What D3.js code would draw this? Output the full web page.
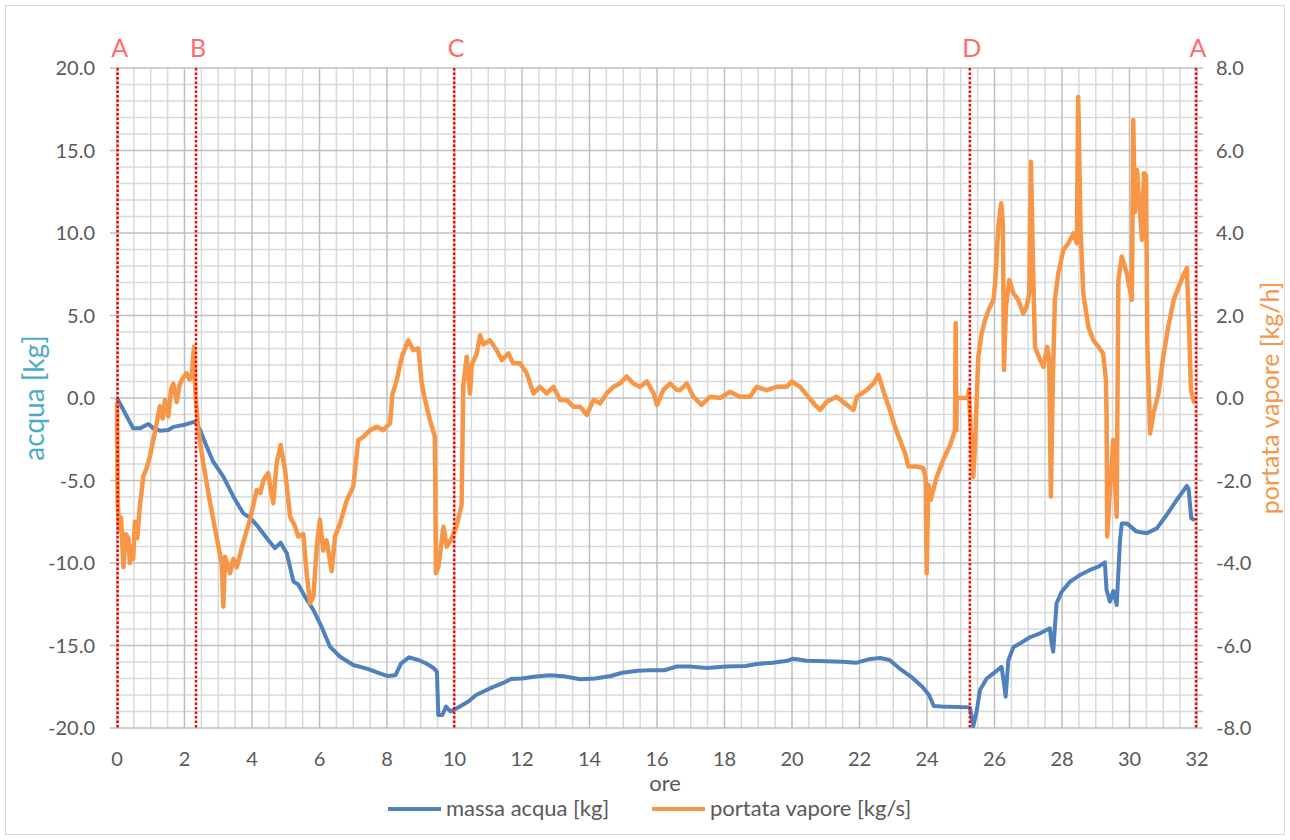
<!DOCTYPE html>
<html>
<head>
<meta charset="utf-8">
<script src="https://cdn.jsdelivr.net/npm/d3@7"></script>
<style>
body { margin: 0; background: #fff; }
svg text { font-family: Lato, "Open Sans", sans-serif; }
</style>
</head>
<body>
<svg id="chart" width="1290" height="840"></svg>
<script>
// massa acqua [kg] (asse sinistro)
const massaOre = [0,0.48,0.68,0.93,1.08,1.27,1.52,1.67,1.97,2.31,2.46,2.66,2.85,3.15,3.45,3.74,3.94,4.14,4.44,4.68,4.85,5.03,5.23,5.37,5.57,5.82,6.06,6.31,6.61,7.0,7.4,7.79,8.02,8.25,8.42,8.65,8.93,9.16,9.39,9.48,9.52,9.64,9.75,9.88,10.07,10.41,10.64,11.1,11.44,11.67,12.01,12.35,12.81,13.26,13.72,14.17,14.63,14.97,15.43,15.77,16.22,16.57,17.02,17.48,18.05,18.62,18.96,19.42,19.87,20.04,20.44,21.01,21.47,21.92,22.27,22.61,22.89,23.18,23.52,23.86,24.06,24.2,24.43,25.27,25.37,25.47,25.57,25.77,25.96,26.21,26.28,26.33,26.41,26.56,26.76,27.05,27.35,27.64,27.69,27.74,27.79,27.84,27.99,28.24,28.53,28.83,29.08,29.27,29.32,29.42,29.52,29.62,29.72,29.77,29.92,30.21,30.51,30.81,31.1,31.4,31.7,31.75,31.83,31.94];
const massaVal = [0,-1.84,-1.84,-1.58,-1.84,-1.98,-1.94,-1.75,-1.64,-1.43,-1.94,-2.95,-3.86,-4.77,-5.98,-6.99,-7.25,-7.7,-8.5,-9.1,-8.77,-9.41,-11.13,-11.3,-12.04,-12.85,-13.86,-15.07,-15.68,-16.18,-16.4,-16.69,-16.85,-16.8,-16.08,-15.72,-15.88,-16.08,-16.38,-16.6,-19.21,-19.21,-18.7,-19.0,-18.8,-18.4,-18.0,-17.55,-17.27,-17.03,-17.0,-16.9,-16.81,-16.87,-17.05,-17.0,-16.85,-16.65,-16.53,-16.5,-16.5,-16.28,-16.28,-16.36,-16.28,-16.24,-16.12,-16.04,-15.92,-15.8,-15.92,-15.96,-15.98,-16.04,-15.84,-15.76,-15.88,-16.38,-16.88,-17.5,-18.0,-18.67,-18.7,-18.75,-19.9,-19.0,-17.7,-17.0,-16.7,-16.3,-17.3,-18.1,-15.9,-15.1,-14.87,-14.5,-14.26,-13.96,-14.87,-15.37,-13.86,-12.44,-11.74,-11.13,-10.73,-10.42,-10.22,-9.96,-11.64,-12.34,-11.7,-12.55,-8.6,-7.6,-7.6,-8.1,-8.2,-7.9,-7.09,-6.18,-5.33,-5.5,-7.29,-7.4];

// portata vapore (asse destro)
const vaporeOre = [0.0,0.02,0.08,0.12,0.19,0.26,0.34,0.38,0.43,0.48,0.53,0.6,0.68,0.78,0.88,0.98,1.13,1.27,1.35,1.42,1.52,1.6,1.67,1.77,1.85,1.92,2.06,2.15,2.21,2.28,2.33,2.41,2.56,2.76,2.95,3.1,3.15,3.2,3.35,3.45,3.55,3.74,3.94,4.14,4.25,4.34,4.48,4.55,4.63,4.73,4.85,4.98,5.13,5.27,5.37,5.52,5.62,5.72,5.82,5.92,6.01,6.11,6.21,6.36,6.46,6.61,6.81,7.0,7.15,7.3,7.5,7.7,7.89,8.09,8.16,8.29,8.44,8.63,8.78,8.93,9.03,9.13,9.27,9.42,9.45,9.52,9.6,9.67,9.77,9.92,10.06,10.21,10.26,10.36,10.46,10.51,10.66,10.76,10.86,11.05,11.25,11.4,11.6,11.74,11.94,12.14,12.34,12.53,12.73,12.93,13.13,13.33,13.52,13.72,13.92,14.12,14.31,14.51,14.71,14.9,15.1,15.3,15.5,15.7,15.9,16.0,16.19,16.39,16.58,16.68,16.88,17.08,17.32,17.57,17.87,18.16,18.46,18.76,18.95,19.25,19.55,19.84,19.99,20.24,20.44,20.68,20.83,21.03,21.32,21.57,21.82,21.92,22.21,22.41,22.56,22.7,22.9,23.05,23.2,23.35,23.45,23.69,23.89,23.96,23.99,24.04,24.11,24.29,24.48,24.68,24.83,24.85,24.87,24.88,25.21,25.24,25.32,25.37,25.42,25.52,25.62,25.72,25.82,25.97,26.02,26.12,26.2,26.25,26.28,26.34,26.44,26.56,26.7,26.85,26.95,27.03,27.08,27.13,27.2,27.35,27.45,27.56,27.62,27.67,27.73,27.79,27.89,28.04,28.19,28.34,28.44,28.48,28.55,28.63,28.78,28.93,29.08,29.22,29.3,29.32,29.34,29.42,29.52,29.62,29.67,29.77,29.92,30.07,30.11,30.16,30.22,30.3,30.37,30.43,30.49,30.53,30.61,30.71,30.86,31.0,31.15,31.31,31.46,31.62,31.7,31.77,31.82,31.92];
const vaporeVal = [-0.1,-2.6,-3.2,-2.9,-4.1,-3.3,-3.4,-4.0,-3.6,-3.9,-3.0,-3.4,-2.6,-1.9,-1.7,-1.4,-0.8,-0.2,-0.5,-0.05,-0.45,0.2,0.35,-0.1,0.3,0.44,0.6,0.45,0.5,1.24,0.03,-0.78,-1.6,-2.55,-3.36,-4.0,-5.06,-3.85,-4.25,-3.9,-4.1,-3.5,-2.95,-2.23,-2.3,-1.99,-1.82,-2.2,-2.55,-1.58,-1.14,-1.75,-2.88,-3.1,-3.36,-3.3,-4.25,-4.98,-4.8,-3.6,-2.95,-3.7,-3.45,-4.2,-3.36,-3.04,-2.47,-2.15,-1.02,-0.94,-0.78,-0.7,-0.78,-0.61,0.08,0.44,1.0,1.4,1.16,1.2,0.35,-0.05,-0.53,-0.95,-4.25,-4.1,-3.6,-3.12,-3.6,-3.4,-3.1,-2.6,0.27,1.0,0.11,0.8,1.08,1.52,1.3,1.4,1.16,0.92,1.08,0.84,0.84,0.6,0.11,0.27,0.11,0.27,-0.05,-0.05,-0.21,-0.21,-0.41,-0.05,-0.13,0.11,0.27,0.35,0.52,0.35,0.27,0.4,0.11,-0.17,0.2,0.35,0.2,0.19,0.35,0.03,-0.17,0.03,0.0,0.15,0.03,0.03,0.27,0.19,0.27,0.27,0.4,0.27,0.07,-0.17,-0.29,-0.09,0.03,-0.13,-0.29,0.03,0.19,0.35,0.56,0.19,-0.29,-0.7,-1.02,-1.34,-1.66,-1.66,-1.7,-1.95,-4.25,-2.1,-2.47,-1.91,-1.5,-1.15,-0.78,1.81,-0.78,0.0,0.0,0.2,-1.18,-1.91,-1.18,1.0,1.57,1.89,2.13,2.38,2.78,4.23,4.72,4.2,0.68,2.21,2.86,2.54,2.38,2.05,2.21,2.54,5.73,3.67,1.24,0.92,0.76,1.24,0.92,-2.39,0.5,2.38,3.02,3.59,3.75,3.99,3.75,7.3,4.1,2.54,1.73,1.4,1.24,1.08,0.44,-0.37,-3.36,-2.23,-1.02,-2.88,2.86,3.43,3.02,2.38,6.74,4.5,5.53,4.64,3.83,5.45,5.4,1.24,-0.86,-0.37,0.11,1.0,1.73,2.38,2.7,3.02,3.15,1.57,0.19,-0.13];

// linee di fase
const fasiNome = ["A","B","C","D","A"];
const fasiOre = [0.02, 2.34, 9.99, 25.27, 31.97];

const xTicks = d3.range(0, 33, 2);
const yLeftTicks = [20,15,10,5,0,-5,-10,-15,-20];
const yRightTicks = [8,6,4,2,0,-2,-4,-6,-8];

const svg = d3.select("#chart");
const L = 117, R = 1197, T = 68, B = 728;

const x = d3.scaleLinear().domain([0, 32]).range([L, R]);
const yL = d3.scaleLinear().domain([-20, 20]).range([B, T]);
const yR = d3.scaleLinear().domain([-8, 8]).range([B, T]);

// bordo esterno
svg.append("rect").attr("x", 5.5).attr("y", 5.5).attr("width", 1279).attr("height", 829)
  .attr("fill", "none").attr("stroke", "#d9d9d9");

const grid = svg.append("g");
// griglia minore
d3.range(0, 32.01, 0.5).forEach(function(h) {
  if (h % 2 === 0) return;
  grid.append("line").attr("x1", x(h)).attr("x2", x(h)).attr("y1", T).attr("y2", B)
    .attr("stroke", "#d9d9d9").attr("stroke-width", 1.5);
});
d3.range(-20, 20.01, 1).forEach(function(v) {
  if (v % 5 === 0) return;
  grid.append("line").attr("x1", L).attr("x2", R).attr("y1", yL(v)).attr("y2", yL(v))
    .attr("stroke", "#d9d9d9").attr("stroke-width", 1.5);
});
// griglia maggiore
xTicks.forEach(function(h) {
  grid.append("line").attr("x1", x(h)).attr("x2", x(h)).attr("y1", T).attr("y2", B)
    .attr("stroke", "#bfbfbf").attr("stroke-width", 1.5);
});
yLeftTicks.forEach(function(v) {
  grid.append("line").attr("x1", L - 7).attr("x2", R).attr("y1", yL(v)).attr("y2", yL(v))
    .attr("stroke", "#bfbfbf").attr("stroke-width", 1.5);
});
// tacche asse destro
d3.range(-8, 8.01, 0.4).forEach(function(v) {
  grid.append("line").attr("x1", R).attr("x2", R + 6).attr("y1", yR(v)).attr("y2", yR(v))
    .attr("stroke", "#bfbfbf").attr("stroke-width", 1.5);
});

// etichette assi
svg.append("g").selectAll("text").data(yLeftTicks).enter().append("text")
  .attr("x", 95).attr("y", function(d) { return yL(d) + 7; })
  .attr("text-anchor", "end").attr("font-size", 20).attr("fill", "#595959")
  .text(function(d) { return d3.format(".1f")(d).replace("−", "-"); });

svg.append("g").selectAll("text").data(yRightTicks).enter().append("text")
  .attr("x", 1216).attr("y", function(d) { return yR(d) + 7; })
  .attr("text-anchor", "start").attr("font-size", 20).attr("fill", "#595959")
  .text(function(d) { return d3.format(".1f")(d).replace("−", "-"); });

svg.append("g").selectAll("text").data(xTicks).enter().append("text")
  .attr("x", function(d) { return x(d); }).attr("y", 766)
  .attr("text-anchor", "middle").attr("font-size", 20).attr("fill", "#595959")
  .text(function(d) { return d; });

svg.append("text").attr("x", 665).attr("y", 791).attr("text-anchor", "middle")
  .attr("font-size", 22).attr("fill", "#595959").text("ore");

svg.append("text").attr("transform", "translate(44," + ((T + B) / 2) + ") rotate(-90)")
  .attr("text-anchor", "middle").attr("font-size", 28).attr("fill", "#4bacc6").text("acqua [kg]");

svg.append("text").attr("transform", "translate(1279," + ((T + B) / 2) + ") rotate(-90)")
  .attr("text-anchor", "middle").attr("font-size", 25).attr("fill", "#f79646").text("portata vapore [kg/h]");

// serie
const massa = massaOre.map(function(h, i) { return [h, massaVal[i]]; });
const vapore = vaporeOre.map(function(h, i) { return [h, vaporeVal[i]]; });

svg.append("path").datum(massa)
  .attr("d", d3.line().x(function(d) { return x(d[0]); }).y(function(d) { return yL(d[1]); }))
  .attr("fill", "none").attr("stroke", "#4f81bd").attr("stroke-width", 4)
  .attr("stroke-linejoin", "round");

svg.append("path").datum(vapore)
  .attr("d", d3.line().x(function(d) { return x(d[0]); }).y(function(d) { return yR(d[1]); }))
  .attr("fill", "none").attr("stroke", "#f79646").attr("stroke-width", 4.5)
  .attr("stroke-linejoin", "round");

// linee rosse tratteggiate
fasiOre.forEach(function(h, i) {
  svg.append("line").attr("x1", x(h)).attr("x2", x(h)).attr("y1", T).attr("y2", B)
    .attr("stroke", "#ff0000").attr("stroke-width", 2.5).attr("stroke-dasharray", "2.5,2");
  svg.append("text").attr("x", x(h) + 2).attr("y", 57).attr("text-anchor", "middle")
    .attr("font-size", 25).attr("fill", "#ff6b6b").text(fasiNome[i]);
});

// legenda
const leg = svg.append("g");
leg.append("line").attr("x1", 388).attr("x2", 441).attr("y1", 809).attr("y2", 809)
  .attr("stroke", "#4f81bd").attr("stroke-width", 4);
leg.append("text").attr("x", 446).attr("y", 816).attr("font-size", 22).attr("fill", "#595959")
  .text("massa acqua [kg]");
leg.append("line").attr("x1", 652).attr("x2", 705).attr("y1", 809).attr("y2", 809)
  .attr("stroke", "#f79646").attr("stroke-width", 4);
leg.append("text").attr("x", 710).attr("y", 816).attr("font-size", 22).attr("fill", "#595959")
  .text("portata vapore [kg/s]");
</script>
</body>
</html>
